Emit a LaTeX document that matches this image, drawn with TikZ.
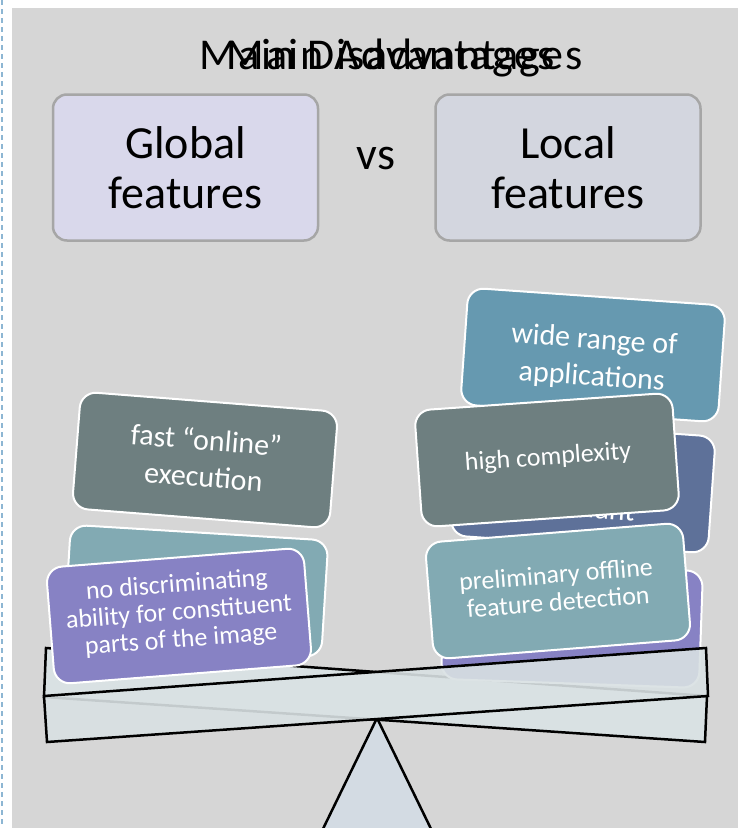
\documentclass[tikz,border=0pt]{standalone}
\usepackage{fontspec}
\setmainfont{Carlito}
\definecolor{panel}{HTML}{D6D6D6}
\definecolor{dashline}{HTML}{8DB6D3}
\definecolor{globalfill}{HTML}{D9D8EB}
\definecolor{localfill}{HTML}{D3D6DF}
\definecolor{boxedge}{HTML}{A6A6A6}
\definecolor{slate}{HTML}{6E7F80}
\definecolor{teal}{HTML}{82AAB3}
\definecolor{lilac}{HTML}{8782C4}
\definecolor{steel}{HTML}{6699B0}
\definecolor{navy}{HTML}{5E7199}
\definecolor{beamfill}{HTML}{D9E1E3}
\definecolor{standfill}{HTML}{D3DBE3}
\begin{document}
\begin{tikzpicture}[x=1pt,y=-1pt,
  card/.style={draw=white, line width=2pt, rounded corners=16pt,
    minimum width=258pt, minimum height=117pt, inner sep=0pt},
  cardtext/.style={text=white, align=center, inner sep=0pt},
  bigtext/.style={font=\fontsize{30}{37}\selectfont},
  smalltext/.style={font=\fontsize{26}{27.5}\selectfont},
  topbox/.style={draw=boxedge, line width=2.5pt, rounded corners=14pt,
    minimum width=265pt, minimum height=146pt, inner sep=0pt, align=center,
    font=\fontsize{46}{50}\selectfont},
  headline/.style={anchor=base, inner sep=0pt,
    font=\fontsize{44}{48}\selectfont\addfontfeature{LetterSpace=3.5}},
  beam/.style={draw=black, line width=2.5pt, line join=miter, fill=beamfill}]
\useasboundingbox (0,0) rectangle (738,828);
\clip (0,0) rectangle (738,828);

% page and panel
\fill[white] (0,0) rectangle (738,828);
\fill[panel] (12,8) rectangle (738,828);
\draw[dashline, line width=2pt, dash pattern=on 5pt off 4pt] (1.5,0) -- (1.5,828);

% overlapping headings
\node[headline] (adv) at (391,69) {Main Advantages};
\node[headline] (dis) at (391,69) {Main Disadvantages};

% the two compared families
\node[topbox, fill=globalfill] (global) at (185.5,167.5) {Global\\features};
\node[font=\fontsize{46}{50}\selectfont, inner sep=0pt] (vs) at (376,159) {vs};
\node[topbox, fill=localfill] (local) at (568,167.5) {Local\\features};

% fulcrum
\draw[line width=2.5pt, fill=standfill, line join=miter] (377,718) -- (320,835) -- (434,835) -- cycle;

% beam tilted down to the right (back)
\path[beam] (46,648) -- (707,696) -- (705,742) -- (44,697) -- cycle;

% left pan
\node[card, fill=teal, rotate=-3.5] (gmid) at (196,591) {};
\node[card, fill=lilac, rotate=4.5] (gdisc) at (179,616) {};
\node[cardtext, smalltext, rotate=4.5] at (179,613) {no discriminating\\ability for constituent\\parts of the image};
\node[card, fill=slate, rotate=-4.5] (gfast) at (205,460) {};
\node[cardtext, bigtext, rotate=-4.5] at (205,458) {fast “online”\\execution};

% right pan
\node[card, fill=steel, rotate=-4] (lwide) at (593,355) {};
\node[cardtext, bigtext, rotate=-4] at (593,359) {wide range of\\applications};
\node[card, fill=navy, rotate=-4] (linv) at (583,486) {};
\node[cardtext, bigtext, rotate=-4] at (583,486) {\strut\\invariant};
\node[card, fill=lilac, rotate=-2] (lback) at (572,625) {};
\node[card, fill=slate, rotate=4] (lhigh) at (547,460) {};
\node[cardtext, smalltext, rotate=4] at (548,458) {high complexity};
\node[card, fill=teal, rotate=4.5] (lprelim) at (558,591) {};
\node[cardtext, smalltext, rotate=4.5] at (557,588) {preliminary offline\\feature detection};

% beam tilted up to the right (front, slightly see-through)
\path[beam, fill opacity=0.9] (44,696) -- (706,648) -- (708,696) -- (47,742) -- cycle;
\end{tikzpicture}
\end{document}
